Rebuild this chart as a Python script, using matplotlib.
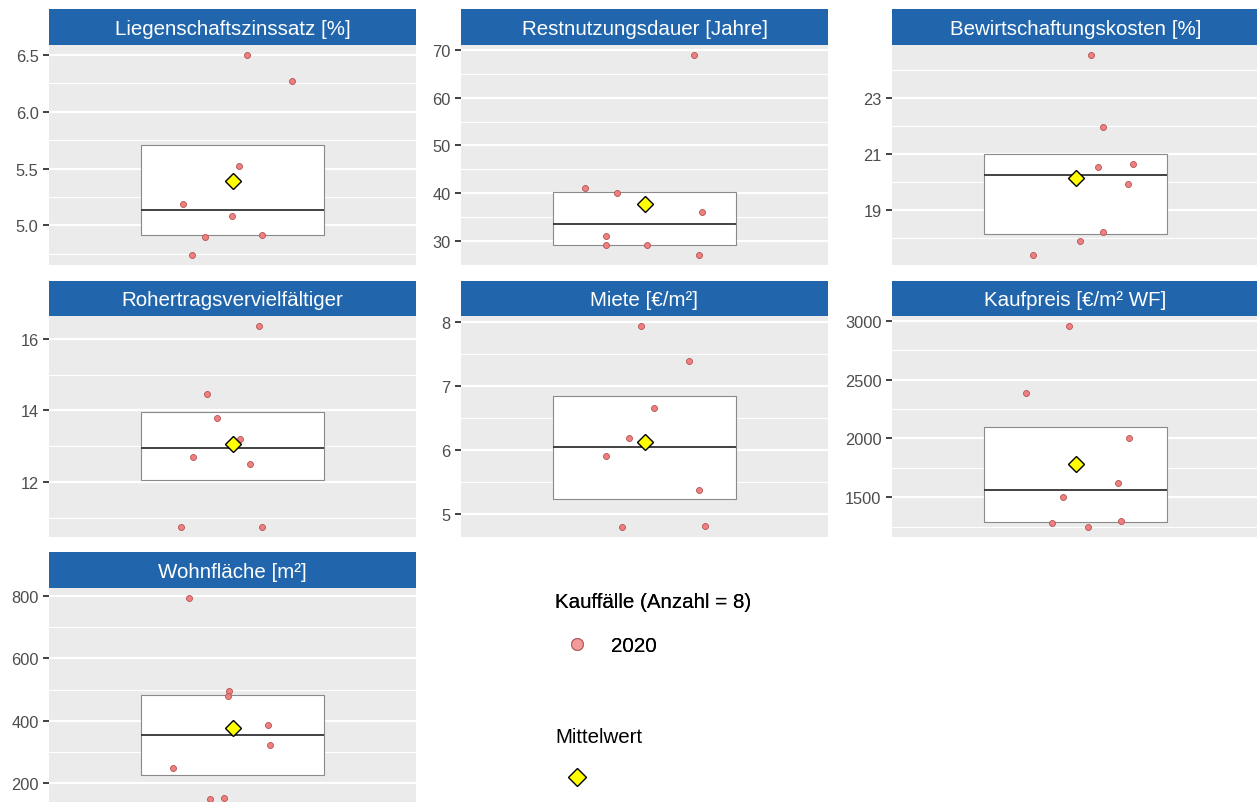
import matplotlib.pyplot as plt
from matplotlib.lines import Line2D
from matplotlib.ticker import FixedLocator
import numpy as np

plt.rcParams['font.family'] = ['Liberation Sans', 'DejaVu Sans']

# panel titles and values (8 sales cases, year 2020)
titles = ['Liegenschaftszinssatz [%]', 'Restnutzungsdauer [Jahre]', 'Bewirtschaftungskosten [%]',
          'Rohertragsvervielfältiger', 'Miete [€/m²]', 'Kaufpreis [€/m² WF]',
          'Wohnfläche [m²]']

zinssatz = [6.50, 6.27, 5.52, 5.19, 5.08, 4.90, 4.92, 4.74]
restnutzung = [69, 41, 40, 36, 31, 29, 29, 27]
bewirtschaftung = [24.52, 21.96, 20.54, 20.66, 19.95, 18.22, 17.92, 17.41]
rohertrag = [16.36, 14.46, 13.78, 13.19, 12.71, 12.49, 10.74, 10.74]
miete = [7.93, 7.39, 6.65, 6.19, 5.91, 5.37, 4.80, 4.81]
kaufpreis = [2955, 2387, 2000, 1618, 1500, 1279, 1248, 1296]
wohnflaeche = [794, 494, 478, 387, 323, 249, 149, 153]

# horizontal jitter
jitter_zins = [1.046, 1.196, 1.021, 0.837, 0.997, 0.909, 1.097, 0.869]
jitter_rnd = [1.161, 0.805, 0.910, 1.187, 0.873, 0.873, 1.008, 1.179]
jitter_bwk = [1.052, 1.090, 1.072, 1.187, 1.172, 1.089, 1.015, 0.862]
jitter_rov = [1.087, 0.916, 0.948, 1.025, 0.871, 1.057, 0.832, 1.095]
jitter_miete = [0.990, 1.146, 1.032, 0.950, 0.875, 1.178, 0.926, 1.197]
jitter_kp = [0.979, 0.837, 1.174, 1.138, 0.958, 0.922, 1.041, 1.149]
jitter_wfl = [0.858, 0.990, 0.986, 1.116, 1.123, 0.805, 0.925, 0.973]

ticks_zins = [5.0, 5.5, 6.0, 6.5]
ticks_rnd = [30, 40, 50, 60, 70]
ticks_bwk = [19, 21, 23]
ticks_rov = [12, 14, 16]
ticks_miete = [5, 6, 7, 8]
ticks_kp = [1500, 2000, 2500, 3000]
ticks_wfl = [200, 400, 600, 800]

values = [zinssatz, restnutzung, bewirtschaftung, rohertrag, miete, kaufpreis, wohnflaeche]
jitters = [jitter_zins, jitter_rnd, jitter_bwk, jitter_rov, jitter_miete, jitter_kp, jitter_wfl]
ticks = [ticks_zins, ticks_rnd, ticks_bwk, ticks_rov, ticks_miete, ticks_kp, ticks_wfl]

W, H = 1257, 803
fig = plt.figure(figsize=(W / 100, H / 100), dpi=100)

rows = [(10, 46, 266), (282, 317, 538), (553, 589, 810)]
cols = [(49, 416), (461, 828), (892, 1259)]

strip_col = '#2166AC'
bg = '#EBEBEB'
pt_fill = '#F08080'
pt_edge = '#B05050'


def px_axes(x0, x1, y0, y1):
    return fig.add_axes([x0 / W, 1 - y1 / H, (x1 - x0) / W, (y1 - y0) / H])


for i, (title, vals, jit, tk) in enumerate(zip(titles, values, jitters, ticks)):
    r, c = divmod(i, 3)
    s_top, p_top, p_bot = rows[r]
    x0, x1 = cols[c]

    # strip
    sax = px_axes(x0, x1, s_top, p_top)
    sax.set_facecolor(strip_col)
    sax.set_xticks([])
    sax.set_yticks([])
    for sp in sax.spines.values():
        sp.set_visible(False)
    sax.text(0.5, 0.47, title, color='white', fontsize=14.8, ha='center', va='center',
             transform=sax.transAxes)

    ax = px_axes(x0, x1, p_top, p_bot)
    ax.set_facecolor(bg)
    for sp in ax.spines.values():
        sp.set_visible(False)

    ax.boxplot(vals, positions=[1], widths=0.6, whis=0, showfliers=False, showcaps=False,
               patch_artist=True,
               boxprops=dict(facecolor='white', edgecolor='#8a8a8a', linewidth=0.8),
               whiskerprops=dict(linewidth=0),
               medianprops=dict(color='#333333', linewidth=1.3), zorder=2)

    ax.plot(jit, vals, 'o', markersize=4.3, markerfacecolor=pt_fill, markeredgecolor=pt_edge,
            markeredgewidth=0.6, linestyle='none', zorder=3)
    ax.plot([1], [np.mean(vals)], 'D', markersize=8.3, markerfacecolor='yellow',
            markeredgecolor='black', markeredgewidth=1.0, zorder=4)

    lo, hi = min(vals), max(vals)
    pad = (hi - lo) * 0.05
    ax.set_ylim(lo - pad, hi + pad)
    ax.set_xlim(0.4, 1.6)

    step = tk[1] - tk[0]
    minors = [tk[0] - step / 2] + [t + step / 2 for t in tk]
    ax.yaxis.set_major_locator(FixedLocator(tk))
    ax.yaxis.set_minor_locator(FixedLocator(minors))
    ax.grid(which='major', axis='y', color='white', linewidth=1.6, zorder=0)
    ax.grid(which='minor', axis='y', color='white', linewidth=0.8, zorder=0)
    ax.set_axisbelow(True)
    ax.set_xticks([])
    ax.tick_params(axis='y', which='major', length=4, width=1.3, color='#333333',
                   labelsize=11.8, labelcolor='#4D4D4D', pad=3.5)
    ax.tick_params(axis='y', which='minor', length=0)

# legends
h_pt = Line2D([], [], marker='o', linestyle='none', markersize=8.5,
              markerfacecolor='#F49A9A', markeredgecolor='#B06060', markeredgewidth=0.8)
leg1 = fig.legend([h_pt], ['2020'], title='Kauffälle (Anzahl = 8)', loc='upper left',
                  bbox_to_anchor=(547 / W, 1 - 585 / H), frameon=False, fontsize=14.8,
                  title_fontsize=14.8, alignment='left', handlelength=2.14,
                  handletextpad=0.58, labelspacing=1.2, borderaxespad=0)

h_d = Line2D([], [], marker='D', linestyle='none', markersize=9.5,
             markerfacecolor='yellow', markeredgecolor='black', markeredgewidth=1.0)
leg2 = fig.legend([h_d], [''], title='Mittelwert', loc='upper left',
                  bbox_to_anchor=(547 / W, 1 - 720 / H), frameon=False, fontsize=14.8,
                  title_fontsize=14.8, alignment='left', handlelength=2.14,
                  handletextpad=0.58, labelspacing=1.1, borderaxespad=0)
fig.add_artist(leg1)

fig.savefig('out.png', dpi=100)
